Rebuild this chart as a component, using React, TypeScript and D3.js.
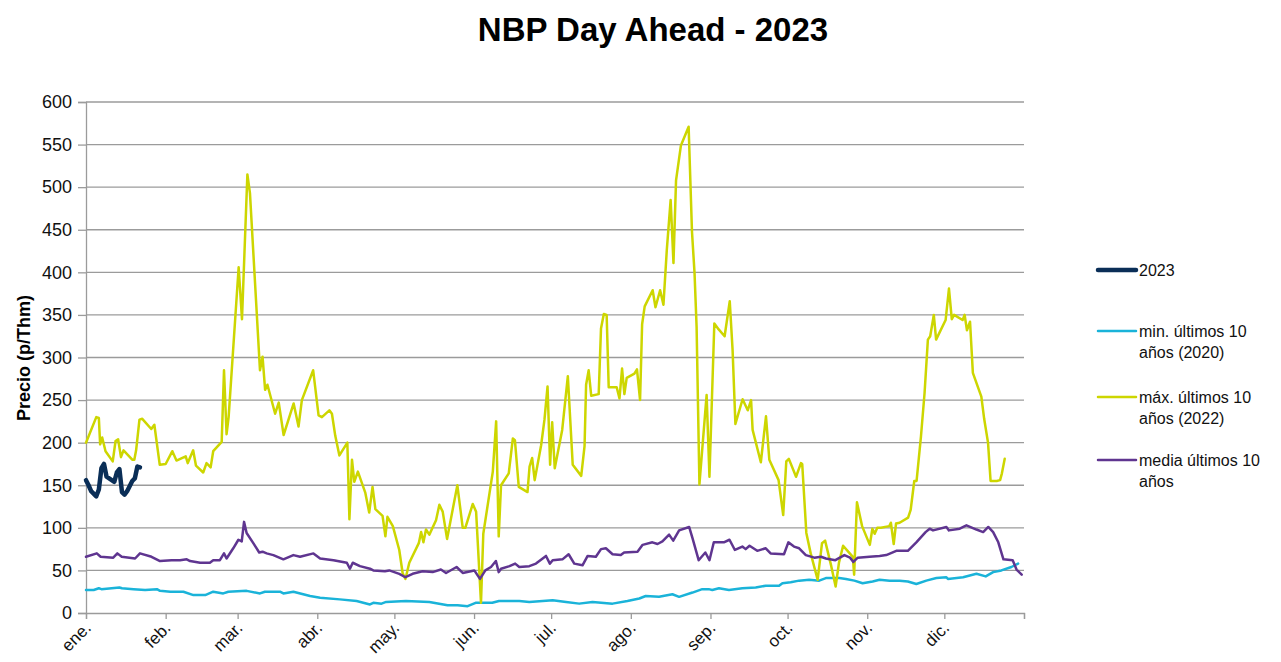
import { useRef, useEffect } from 'react';
import * as d3 from 'd3';

// x = day of year (0 = 1 Jan), y = p/Thm
const months = ['ene.', 'feb.', 'mar.', 'abr.', 'may.', 'jun.', 'jul.', 'ago.', 'sep.', 'oct.', 'nov.', 'dic.'];
const monthStarts = [0, 31, 59, 90, 120, 151, 181, 212, 243, 273, 304, 334, 365];
const yTicks = [0, 50, 100, 150, 200, 250, 300, 350, 400, 450, 500, 550, 600];

const serie2023: [number, number][] = [
  [0, 156], [1, 150], [2, 143], [4, 137], [5, 145], [6, 170], [7, 175], [8, 160], [10, 156],
  [11, 154], [12, 165], [13, 169], [14, 142], [15, 139], [16, 143], [18, 155], [19, 158], [20, 172], [21, 171],
];

const minSerie: [number, number][] = [
  [0, 27], [3, 27], [5, 29], [6, 28], [13, 30], [14, 29], [18.5, 28], [23, 27], [27.6, 28], [28.8, 26],
  [32.8, 25], [37.9, 25], [41.8, 21], [46.4, 21], [49.5, 25], [53.4, 23], [55.4, 25], [62.5, 26], [67.7, 23],
  [69.6, 25], [75.5, 25], [76.8, 23], [80.7, 25], [87.2, 20], [91.1, 18], [98.8, 16], [105.3, 14], [110.5, 10],
  [111.8, 12], [115, 11], [116.8, 13], [124.5, 14], [133.6, 13], [140.7, 9], [144.6, 9], [148.5, 8], [151.6, 12],
  [158.1, 12], [160.7, 14], [168.6, 14], [172.5, 13], [181.6, 15], [186.8, 13], [191.9, 11], [197.1, 13],
  [204.9, 11], [210.7, 14], [215.3, 17], [217.8, 20], [223, 19], [228.2, 22], [230.8, 19], [236, 24],
  [239.8, 28], [242.3, 28], [243.7, 27], [246.3, 29], [250.2, 27], [255.4, 29], [260.6, 30], [264.5, 32],
  [269.7, 32], [271, 35], [274.2, 36], [277.5, 38], [281.4, 39], [285.3, 38], [287.9, 41], [293.1, 41],
  [295.7, 40], [299, 38], [302.2, 35], [306.1, 37], [308.8, 39], [312.7, 38], [316.6, 38], [319.8, 37],
  [323.1, 34], [327, 38], [330.9, 41], [334.8, 42], [335.4, 40], [341.3, 42], [346.5, 46], [350.1, 43],
  [353, 48], [356.2, 50], [360.1, 54], [362.7, 58],
];

const maxSerie: [number, number][] = [
  [0, 200], [4, 230], [5, 229], [5.5, 198], [6.3, 206], [7.6, 190], [10.4, 178], [11.5, 202], [12.5, 204],
  [13.6, 183], [14.6, 191], [18, 180], [18.8, 180], [19.5, 191], [20.8, 227], [21.9, 228], [25.4, 216],
  [26.6, 221], [28.7, 174], [31, 175], [33.6, 190], [35.2, 179], [38.8, 184], [39.6, 176], [41.7, 191],
  [42.8, 173], [45.6, 165], [46.9, 176], [48.5, 171], [49.5, 190], [52.8, 201], [53.7, 285], [54.7, 210],
  [55.5, 230], [59.4, 406], [60.7, 345], [62.8, 515], [63.8, 493], [67.7, 285], [68.7, 301], [69.7, 262],
  [70.6, 268], [73.6, 234], [75, 247], [76.9, 209], [80.8, 246], [82.7, 219], [84, 250], [88.4, 285],
  [90.5, 232], [91.8, 230], [94.7, 238], [95.7, 234], [97, 208], [98.6, 185], [101.7, 200], [102.5, 110],
  [103.5, 180], [104.4, 154], [105.8, 166], [108.7, 141], [110.2, 118], [111.5, 148], [112.6, 122],
  [115.4, 114], [116.5, 90], [117.3, 113], [119.4, 102], [121.9, 74], [123.2, 47], [124.3, 40], [125.8, 59],
  [129.5, 82], [130.4, 95], [131.3, 83], [132.3, 98], [133.6, 92], [136.2, 109], [137.5, 127], [138.8, 119],
  [140.5, 87], [144.5, 150], [146.6, 100], [147.6, 100], [150.5, 128], [151.8, 119], [153.7, 12], [154.6, 93],
  [158.3, 166], [159.6, 225], [160.6, 90], [161.5, 150], [164.5, 164], [166.1, 205], [166.9, 203],
  [168.4, 148], [171.8, 142], [172.6, 172], [173.6, 182], [174.6, 156], [177.1, 197], [178.4, 227],
  [179.6, 266], [180.6, 174], [181.4, 224], [182.4, 170], [185.3, 215], [187.5, 278], [189.4, 174],
  [192.7, 161], [194, 196], [194.6, 268], [195.6, 285], [196.6, 255], [199.5, 257], [200.4, 334],
  [201.5, 351], [202.6, 350], [203.4, 265], [206.5, 265], [207.6, 252], [208.6, 287], [209.5, 257],
  [210.4, 276], [213.4, 281], [214.4, 286], [215.6, 250], [216.4, 339], [217.4, 360], [220.5, 379],
  [221.6, 359], [223.4, 379], [224.7, 362], [226, 426], [227.5, 485], [228.6, 411], [229.6, 508],
  [231.5, 549], [234.5, 571], [235.8, 448], [236.8, 399], [237.6, 336], [238.7, 151], [241.5, 256],
  [242.6, 160], [244.5, 340], [246.2, 333], [248.5, 325], [250.5, 366], [251.6, 309], [252.7, 222],
  [255.5, 251], [257.5, 238], [258.8, 250], [259.4, 215], [262.6, 177], [264.6, 231], [265.9, 180],
  [269.5, 156], [271.3, 115], [272.5, 178], [273.5, 181], [276.3, 160], [278.2, 176], [278.7, 175],
  [280.3, 94], [282, 70], [284.7, 39], [286.4, 82], [287.6, 85], [290, 55], [291.7, 31], [293, 59],
  [294.6, 79], [296.6, 72], [298.4, 66], [298.9, 45], [300, 130], [302, 102], [305, 80], [306, 99],
  [306.9, 93], [307.9, 100], [309.3, 100], [312.6, 102], [313.2, 106], [314.3, 81], [315.2, 105],
  [316.6, 106], [319.9, 112], [320.9, 121], [322.3, 155], [323.2, 155], [324.9, 207], [326.3, 258],
  [327.6, 321], [328.5, 325], [329.9, 350], [330.8, 321], [334.5, 344], [335.8, 381], [336.9, 345],
  [337.8, 350], [341.1, 344], [341.9, 350], [342.8, 332], [344, 342], [345.1, 282], [348.4, 254],
  [349.5, 228], [351, 200], [352, 155], [354.4, 155], [355.7, 156], [356.4, 164], [357.5, 181],
];

const mediaSerie: [number, number][] = [
  [0, 66], [4.2, 70], [5.7, 66], [10.6, 65], [12.2, 70], [13.9, 66], [19.1, 64], [21, 70], [25.5, 66],
  [28.8, 61], [33.3, 62], [36.6, 62], [39.2, 63], [40.5, 61], [44.4, 59], [48.2, 59], [49.5, 62], [52.1, 62],
  [53.7, 70], [54.7, 64], [57.3, 76], [59.3, 86], [60.6, 84], [61.5, 107], [62.5, 94], [65.1, 82], [67.4, 71],
  [68.7, 72], [70.3, 70], [72.9, 68], [76.8, 63], [80.7, 68], [83.3, 66], [88.5, 70], [91.1, 64], [96.3, 62],
  [101.5, 59], [102.7, 52], [103.8, 59], [106.6, 55], [110.5, 52], [111.8, 50], [116.3, 49], [118, 50],
  [121.9, 46], [124.3, 42], [127.1, 46], [131, 49], [134.9, 48], [138.1, 51], [140.1, 47], [144.2, 54],
  [146.6, 47], [151.1, 50], [153.3, 40], [155.4, 50], [157.6, 54], [159.5, 61], [160.6, 48], [161.5, 52],
  [164.8, 55], [167, 58], [168.6, 54], [172.5, 55], [175.1, 58], [179, 67], [180.5, 58], [181.6, 62],
  [185.4, 63], [187.8, 69], [190, 58], [193.2, 56], [195.2, 67], [198.4, 66], [200.4, 75], [202.3, 76],
  [204.9, 69], [208.1, 68], [209.4, 71], [214.6, 72], [216.6, 80], [220.4, 83], [222.4, 81], [224.3, 84],
  [226.9, 92], [228.5, 85], [230.8, 97], [234.7, 101], [236, 88], [238.4, 62], [241, 71], [242.6, 62],
  [244.3, 83], [248.2, 83], [250.4, 86], [252.5, 74], [255.4, 78], [256.7, 75], [258.2, 79], [261.2, 73],
  [264.5, 76], [266.4, 70], [271.6, 69], [273.3, 83], [275.5, 78], [277.5, 76], [280.1, 68], [283.4, 65],
  [286, 66], [287.9, 64], [291.6, 62], [295.1, 68], [297.3, 65], [298.6, 60], [300.3, 65], [304.9, 66],
  [308.8, 67], [311.4, 68], [315.3, 73], [319.8, 73], [323.1, 83], [326.7, 95], [328.3, 99], [329.6, 97],
  [334.8, 101], [335.8, 97], [340, 99], [342.6, 103], [346.5, 98], [349.1, 95], [351.1, 101], [353, 95],
  [355, 83], [357, 63], [360.6, 62], [362.1, 51], [364.1, 45],
];

const series = [
  { name: '2023', lines: ['2023'], data: serie2023, color: '#0a2e57', width: 4.5 },
  { name: 'min', lines: ['min. últimos 10', 'años (2020)'], data: minSerie, color: '#1ab3d9', width: 2.5 },
  { name: 'max', lines: ['máx. últimos 10', 'años (2022)'], data: maxSerie, color: '#cdd600', width: 2.5 },
  { name: 'media', lines: ['media últimos 10', 'años'], data: mediaSerie, color: '#5f3590', width: 2.5 },
];

const W = 1281;
const H = 662;
const margin = { top: 102, right: 257, bottom: 49, left: 86 };
const font = 'Arial, "Liberation Sans", sans-serif';

export default function App() {
  const ref = useRef<SVGSVGElement>(null);

  useEffect(() => {
    if (!ref.current) return;
    const svg = d3.select(ref.current);
    svg.selectAll('*').remove();

    const innerWidth = W - margin.left - margin.right;
    const innerHeight = H - margin.top - margin.bottom;

    const x = d3.scaleLinear().domain([0, 365]).range([0, innerWidth]);
    const y = d3.scaleLinear().domain([0, 600]).range([innerHeight, 0]);

    const g = svg.append('g').attr('transform', `translate(${margin.left},${margin.top})`);

    // gridlines
    g.selectAll('line.grid')
      .data(yTicks.slice(1))
      .enter()
      .append('line')
      .attr('x1', 0)
      .attr('x2', innerWidth)
      .attr('y1', (d) => y(d))
      .attr('y2', (d) => y(d))
      .attr('stroke', '#9b9b9b')
      .attr('stroke-width', 1.3);

    // y axis
    const yAxis = g.append('g').call(d3.axisLeft(y).tickValues(yTicks).tickSize(8).tickPadding(6));
    yAxis.select('.domain').attr('stroke', '#9b9b9b').attr('stroke-width', 1.3);
    yAxis.selectAll('line').attr('stroke', '#9b9b9b').attr('stroke-width', 1.3);
    yAxis.selectAll('text').attr('font-size', 18).attr('font-family', font).attr('fill', '#111');

    // x axis
    const xAxis = g
      .append('g')
      .attr('transform', `translate(0,${innerHeight})`)
      .call(d3.axisBottom(x).tickValues(monthStarts).tickSize(6).tickFormat(() => ''));
    xAxis.select('.domain').attr('stroke', '#9b9b9b').attr('stroke-width', 1.3);
    xAxis.selectAll('line').attr('stroke', '#9b9b9b').attr('stroke-width', 1.3);

    g.append('g')
      .selectAll('text')
      .data(months)
      .enter()
      .append('text')
      .attr('transform', (_d, i) => `translate(${x(monthStarts[i]) + 6},${innerHeight + 16}) rotate(-45)`)
      .attr('text-anchor', 'end')
      .attr('font-size', 17)
      .attr('font-family', font)
      .attr('fill', '#111')
      .text((d) => d);

    // lines
    const line = d3
      .line<[number, number]>()
      .x((d) => x(d[0]))
      .y((d) => y(d[1]));

    const order = ['min', 'max', 'media', '2023'];
    order.forEach((n) => {
      const s = series.find((d) => d.name === n)!;
      g.append('path')
        .datum(s.data)
        .attr('fill', 'none')
        .attr('stroke', s.color)
        .attr('stroke-width', s.width)
        .attr('stroke-linejoin', 'round')
        .attr('stroke-linecap', 'round')
        .attr('d', line);
    });

    // title
    svg
      .append('text')
      .attr('x', 653)
      .attr('y', 41)
      .attr('text-anchor', 'middle')
      .attr('font-size', 33)
      .attr('font-weight', 'bold')
      .attr('font-family', font)
      .text('NBP Day Ahead - 2023');

    // y label
    svg
      .append('text')
      .attr('transform', `translate(30,${358}) rotate(-90)`)
      .attr('text-anchor', 'middle')
      .attr('font-size', 18)
      .attr('font-weight', 'bold')
      .attr('font-family', font)
      .text('Precio (p/Thm)');

    // legend
    const legendY = [270, 331, 397, 460];
    const leg = svg.append('g');
    series.forEach((s, i) => {
      const ly = legendY[i];
      leg
        .append('line')
        .attr('x1', 1098)
        .attr('x2', 1136)
        .attr('y1', ly)
        .attr('y2', ly)
        .attr('stroke', s.color)
        .attr('stroke-width', s.width)
        .attr('stroke-linecap', 'round');
      s.lines.forEach((t, j) => {
        leg
          .append('text')
          .attr('x', 1139)
          .attr('y', ly + 6 + j * 21)
          .attr('font-size', 16)
          .attr('font-family', font)
          .attr('fill', '#111')
          .text(t);
      });
    });
  }, []);

  return (
    <svg
      ref={ref}
      width={W}
      height={H}
      style={{ position: 'absolute', left: 0, top: 0, background: '#fff' }}
    />
  );
}
